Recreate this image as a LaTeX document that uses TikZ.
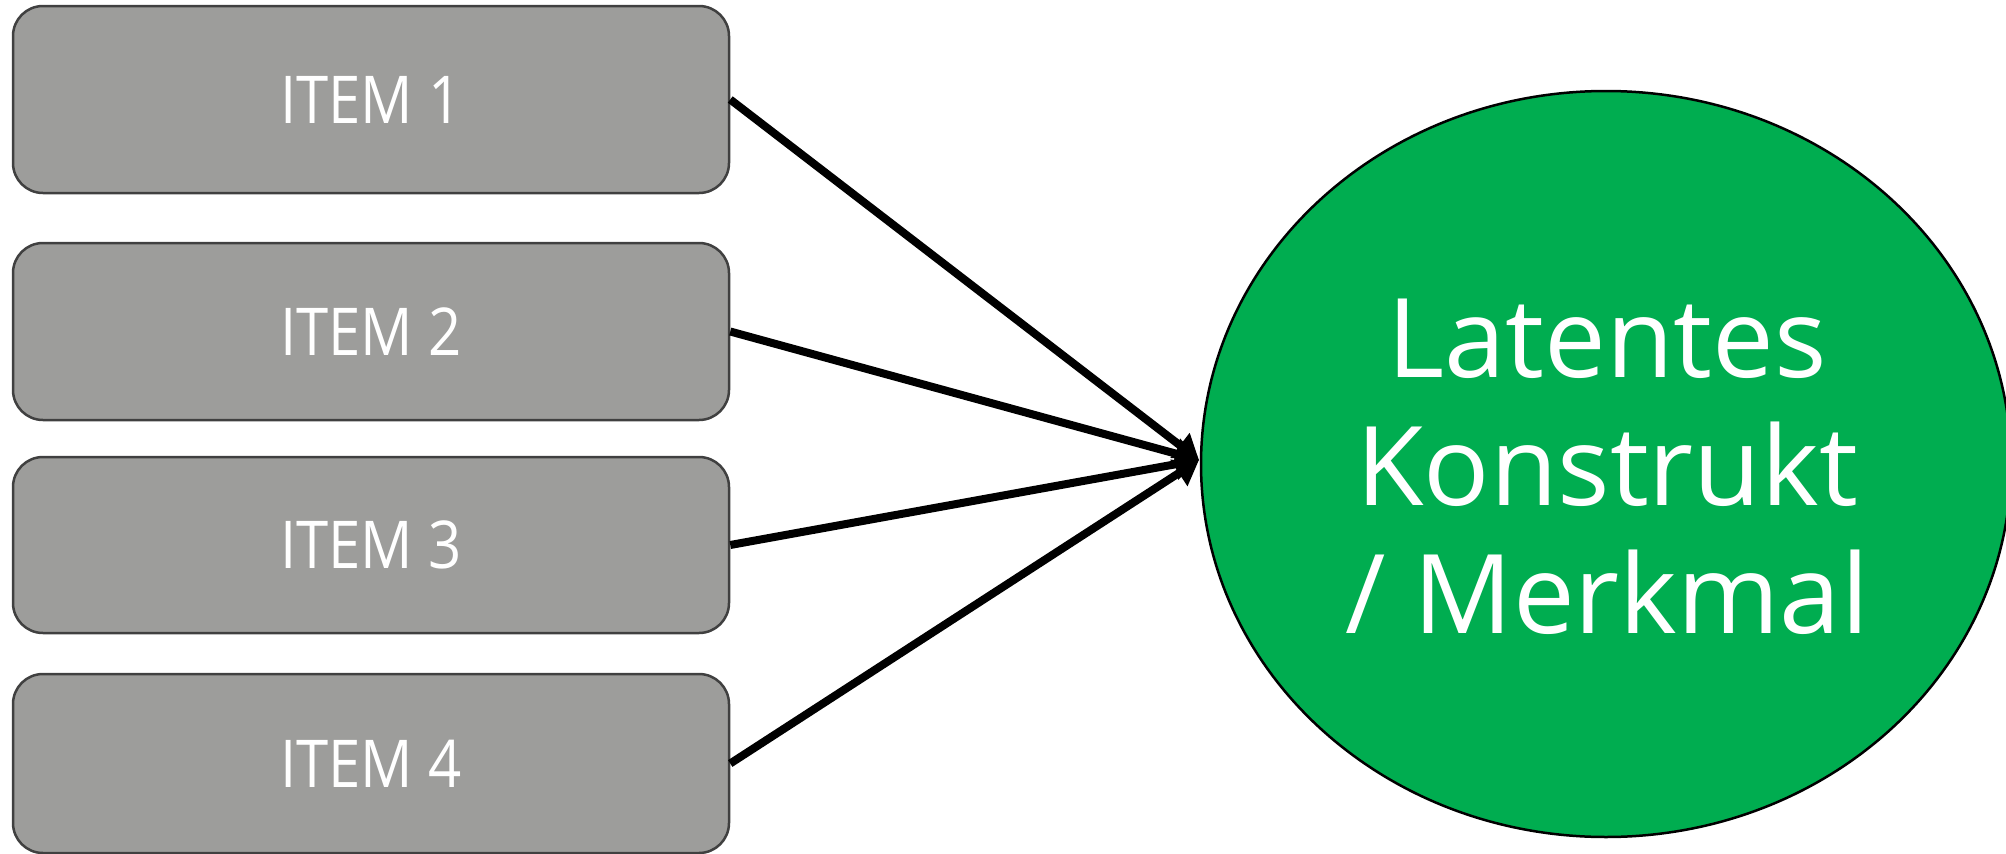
\documentclass[tikz,border=0pt]{standalone}
\usepackage{fontspec}
\setmainfont{Open Sans}
\newfontfamily\itemfont[FakeStretch=0.88]{Open Sans}
\usetikzlibrary{arrows.meta,shapes.geometric}
\definecolor{itemfill}{RGB}{157,157,155}
\definecolor{itemline}{RGB}{64,64,64}
\definecolor{latentgreen}{RGB}{0,173,80}
\begin{document}
\begin{tikzpicture}[x=1pt,y=-1pt,
  itembox/.style={draw=itemline, line width=2.5pt, fill=itemfill,
    rounded corners=30pt, minimum width=716pt, inner sep=0pt,
    text=white, font=\itemfont\fontsize{66}{70}\selectfont},
  latent/.style={ellipse, draw=black, line width=2.5pt, fill=latentgreen,
    minimum width=810pt, minimum height=746pt, inner sep=0pt},
  latentlabel/.style={align=center, text=white, inner sep=0pt,
    font=\fontsize{110}{128}\selectfont},
  link/.style={line width=8pt, -{Triangle[length=24pt,width=30pt]}}
]
\useasboundingbox (0,0) rectangle (2006,854);

% indicator items
\node[itembox, minimum height=187pt] (i1) at (371,99.5)  {ITEM 1};
\node[itembox, minimum height=177pt] (i2) at (371,331.5) {ITEM 2};
\node[itembox, minimum height=176pt] (i3) at (371,545)   {ITEM 3};
\node[itembox, minimum height=179pt] (i4) at (371,763.5) {ITEM 4};

% latent construct
\node[latent] (lat) at (1606,464) {};
\node[latentlabel] (latlabel) at (1607,467) {Latentes\\Konstrukt\\/ Merkmal};

% loadings converge on one point of the ellipse
\coordinate (tip) at (1199,460);
\draw[link] (i1.east) -- (tip);
\draw[link] (i2.east) -- (tip);
\draw[link] (i3.east) -- (tip);
\draw[link] (i4.east) -- (tip);
\end{tikzpicture}
\end{document}
